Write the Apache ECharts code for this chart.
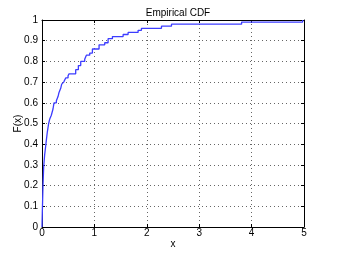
<!DOCTYPE html>
<html><head><meta charset="utf-8">
<script src="https://cdn.jsdelivr.net/npm/echarts@6/dist/echarts.min.js"></script>
<style>html,body{margin:0;padding:0;background:#fff}#c{width:339px;height:256px}</style>
</head><body><div id="c"></div>
<script>
const xs = [0, 0.006, 0.019, 0.032, 0.051, 0.07, 0.083, 0.102, 0.127, 0.146, 0.178, 0.21, 0.229, 0.274, 0.306, 0.325, 0.357, 0.376, 0.414, 0.452, 0.497, 0.516, 0.643, 0.694, 0.739, 0.815, 0.847, 0.911, 0.962, 1.089, 1.197, 1.261, 1.344, 1.548, 1.643, 1.834, 1.898, 2.280, 2.471, 3.809, 4.975];
const Fs = [0, 0.07, 0.2, 0.29, 0.35, 0.39, 0.42, 0.46, 0.5, 0.52, 0.54, 0.57, 0.6, 0.61, 0.63, 0.65, 0.67, 0.69, 0.7, 0.72, 0.73, 0.74, 0.76, 0.78, 0.8, 0.81, 0.83, 0.84, 0.86, 0.88, 0.89, 0.91, 0.92, 0.93, 0.94, 0.95, 0.96, 0.97, 0.98, 0.99, 1.0];
const xTicks = [0, 1, 2, 3, 4, 5];
const yTicks = [0, 0.1, 0.2, 0.3, 0.4, 0.5, 0.6, 0.7, 0.8, 0.9, 1];
const titleText = 'Empirical CDF';
const xName = 'x';
const yName = 'F(x)';

const font = 'Liberation Sans, Arial, sans-serif';
const chart = echarts.init(document.getElementById('c'), null, {renderer: 'canvas'});
const lbl = {color: '#000', fontFamily: font, fontSize: 10};
const grid = {type: [1, 3], color: '#666', width: 1};
const baseX = {
  type: 'value', min: 0, max: 5, interval: 1,
  axisLine: {show: true, onZero: false, lineStyle: {color: '#000', width: 1}},
  axisTick: {show: true, inside: true, length: 3, lineStyle: {color: '#000'}},
};
const baseY = {
  type: 'value', min: 0, max: 1, interval: 0.1,
  axisLine: {show: true, onZero: false, lineStyle: {color: '#000', width: 1}},
  axisTick: {show: true, inside: true, length: 3, lineStyle: {color: '#000'}},
};
chart.setOption({
  backgroundColor: '#fff',
  animation: false,
  title: {text: titleText, left: 173, top: 3, textAlign: 'center',
    textStyle: {fontFamily: font, fontSize: 10, fontWeight: 'normal', color: '#000'}},
  grid: {left: 42, right: 35, top: 20, bottom: 29, containLabel: false, outerBoundsMode: 'none'},
  xAxis: [
    Object.assign({}, baseX, {position: 'bottom', name: xName, nameLocation: 'middle', nameGap: 12, nameMoveOverlap: false,
      nameTextStyle: lbl, axisLabel: Object.assign({margin: 1, formatter: v => xTicks.includes(v) ? String(v) : ''}, lbl),
      splitLine: {show: true, lineStyle: grid}}),
    Object.assign({}, baseX, {position: 'top', axisLabel: {show: false}, splitLine: {show: false}})
  ],
  yAxis: [
    Object.assign({}, baseY, {position: 'left', name: yName, nameLocation: 'middle', nameGap: 19, nameMoveOverlap: false,
      nameTextStyle: lbl, axisLabel: Object.assign({margin: 4, formatter: v => { const r = Math.round(v*10)/10; return yTicks.includes(r) ? String(r) : ''; }}, lbl),
      splitLine: {show: true, lineStyle: grid}}),
    Object.assign({}, baseY, {position: 'right', axisLabel: {show: false}, splitLine: {show: false}})
  ],
  series: [{
    type: 'line', step: 'end', showSymbol: false, symbol: 'none',
    data: xs.map((x, i) => [x, Fs[i]]),
    lineStyle: {color: '#3c3cff', width: 1.3},
    itemStyle: {color: '#3c3cff'}
  }]
});
</script></body></html>
